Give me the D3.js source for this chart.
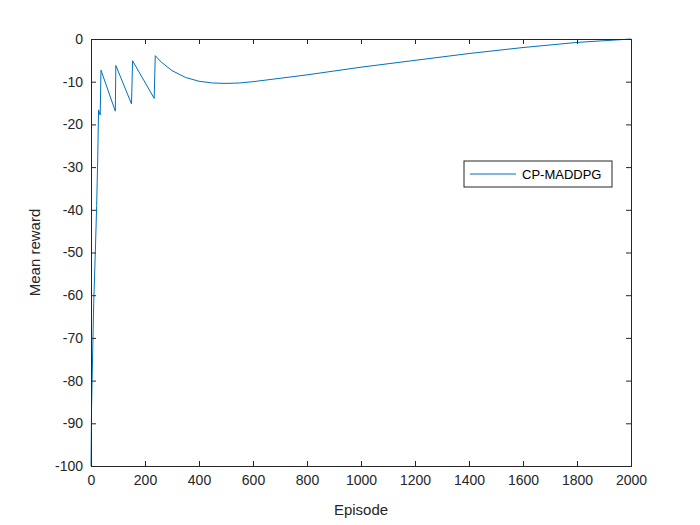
<!DOCTYPE html><html><head><script src="https://cdn.jsdelivr.net/npm/d3@7"></script>
<style>body{margin:0;background:#fff}text{font-family:"Liberation Sans",Arial,sans-serif}</style></head><body>
<svg id="c" width="700" height="525"></svg>
<script>
const episodes=[0,2,6,10,16,21,25,28,34,37,90,92,150,154,234,238,260,300,350,400,450,500,550,600,700,800,1000,1200,1400,1600,1800,2000];
const rewards=[-100,-86.5,-74,-62,-50,-39,-27.6,-16.6,-17.8,-7.3,-16.9,-6.2,-15.2,-5.1,-13.9,-3.9,-5.4,-7.4,-9.0,-9.9,-10.3,-10.4,-10.3,-10.0,-9.2,-8.4,-6.6,-5.0,-3.4,-2.0,-0.8,0];
const xTicks=[0,200,400,600,800,1000,1200,1400,1600,1800,2000];
const yTicks=[0,-10,-20,-30,-40,-50,-60,-70,-80,-90,-100];
const seriesName="CP-MADDPG";
const L=91,R=631,T=39,B=466;
const svg=d3.select("#c");
const x=d3.scaleLinear().domain([0,2000]).range([L,R]);
const y=d3.scaleLinear().domain([-100,0]).range([B,T]);
svg.append("rect").attr("x",L).attr("y",T).attr("width",R-L).attr("height",B-T).attr("fill","#fff");
const line=d3.line().x((d,i)=>x(episodes[i])).y(d=>y(d));
svg.append("path").datum(rewards).attr("d",line).attr("fill","none").attr("stroke","#0072BD").attr("stroke-width",1);
const fmt=d=>d<0?"-"+Math.abs(d):d;
const gb=svg.append("g").attr("transform",`translate(0,${B})`).call(d3.axisBottom(x).tickValues(xTicks).tickSize(-5).tickPadding(9).tickFormat(fmt));
const gt=svg.append("g").attr("transform",`translate(0,${T})`).call(d3.axisTop(x).tickValues(xTicks).tickSize(-5).tickFormat(""));
const gl=svg.append("g").attr("transform",`translate(${L},0)`).call(d3.axisLeft(y).tickValues(yTicks).tickSize(-5).tickPadding(8).tickFormat(fmt));
const gr=svg.append("g").attr("transform",`translate(${R},0)`).call(d3.axisRight(y).tickValues(yTicks).tickSize(-5).tickFormat(""));
[gb,gt,gl,gr].forEach(g=>{g.selectAll("path,line").attr("stroke","#262626");g.selectAll("text").attr("fill","#262626").style("font-size","14px").style("font-family","Liberation Sans, Arial");});
svg.append("text").attr("x",(L+R)/2).attr("y",515).attr("text-anchor","middle").style("font-size","15px").attr("fill","#262626").text("Episode");
svg.append("text").attr("transform",`translate(40,${(T+B)/2}) rotate(-90)`).attr("text-anchor","middle").style("font-size","15px").attr("fill","#262626").text("Mean reward");
const lg=svg.append("g");
lg.append("rect").attr("x",464).attr("y",161).attr("width",148).attr("height",26).attr("fill","#fff").attr("stroke","#262626").attr("stroke-width",1);
lg.append("line").attr("x1",470).attr("x2",516).attr("y1",174).attr("y2",174).attr("stroke","#0072BD");
lg.append("text").attr("x",522).attr("y",179).style("font-size","13px").attr("fill","#000").text(seriesName);
</script></body></html>
